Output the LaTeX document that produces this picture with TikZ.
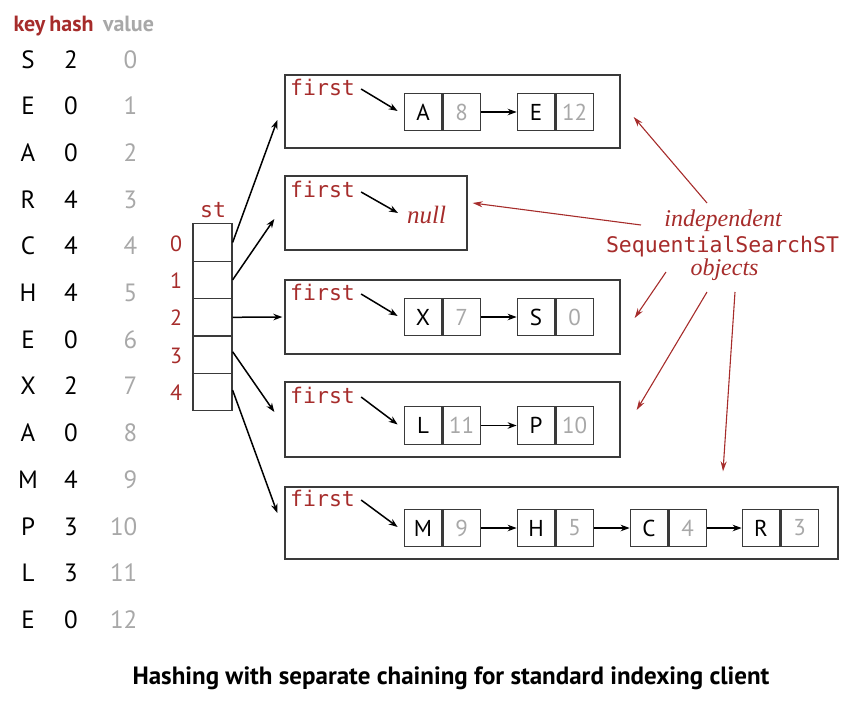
\documentclass[tikz,border=0pt]{standalone}
\usepackage{fontspec}
\setmainfont{Liberation Serif}
\setsansfont{PT Sans}
\setmonofont{DejaVu Sans Mono}
\usetikzlibrary{arrows.meta,calc}
\definecolor{bookred}{HTML}{A62C2B}
\definecolor{valgray}{HTML}{A8A8A8}
\definecolor{framegray}{HTML}{3A3A3A}
\begin{document}
\begin{tikzpicture}[x=1pt,y=-1pt,
  hdr/.style={font=\sffamily\bfseries\fontsize{22}{24}\selectfont, anchor=base, inner sep=0},
  tkey/.style={font=\sffamily\fontsize{25}{28}\selectfont, anchor=base, inner sep=0},
  tval/.style={tkey, text=valgray, anchor=base east},
  idx/.style={font=\sffamily\fontsize{22}{24}\selectfont, text=bookred, anchor=base, inner sep=0},
  stcell/.style={draw=framegray, line width=1.2pt, minimum width=39pt, minimum height=37.4pt, inner sep=0},
  objbox/.style={draw=framegray, line width=1.3pt, inner sep=0},
  kcell/.style={draw=framegray, line width=1.2pt, minimum width=37.5pt, minimum height=37.5pt, inner sep=0, font=\sffamily\fontsize{23}{24}\selectfont},
  vcell/.style={kcell, text=valgray, anchor=west},
  monolbl/.style={font=\ttfamily\fontsize{21.5}{24}\selectfont, text=bookred, inner sep=0},
  firstlbl/.style={monolbl, anchor=base west},
  itlbl/.style={font=\itshape\fontsize{24}{26}\selectfont, text=bookred, inner sep=0, anchor=base},
  ptr/.style={-{Stealth[length=9pt,width=6.5pt]}, line width=1.5pt, black},
  note/.style={-{Stealth[length=10pt,width=6pt]}, line width=1.1pt, bookred},
  ]
\useasboundingbox (0,0) rectangle (864,702);

% table
\node[hdr, text=bookred] (hk) at (29.5,31) {key};
\node[hdr, text=bookred] (hh) at (71.5,31) {hash};
\node[hdr, text=valgray] (hv) at (128.5,31) {value};
\foreach \k/\h [count=\i from 0] in {S/2,E/0,A/0,R/4,C/4,H/4,E/0,X/2,A/0,M/4,P/3,L/3,E/0}{
  \node[tkey] (k\i) at (28,{68+46.7*\i}) {\k};
  \node[tkey] (h\i) at (71,{68+46.7*\i}) {\h};
  \node[tval] (v\i) at (137.5,{68+46.7*\i}) {\i};
}

% st array
\node[monolbl, anchor=base] (stl) at (213,217) {st};
\foreach \i in {0,...,4}{
  \node[stcell] (c\i) at (212.5,{242.5+37.4*\i}) {};
  \node[idx] (n\i) at (176,{251+37.4*\i}) {\i};
}

% object boxes
\node[objbox, minimum width=335pt, minimum height=73pt] (b1) at (452.5,111.5) {};
\node[objbox, minimum width=182pt, minimum height=74pt] (b2) at (376,213) {};
\node[objbox, minimum width=335pt, minimum height=74pt] (b3) at (452.5,317) {};
\node[objbox, minimum width=335pt, minimum height=75pt] (b4) at (452.5,419.5) {};
\node[objbox, minimum width=553pt, minimum height=72pt] (b5) at (561.5,523) {};

% first labels
\node[firstlbl] (f1) at (290,95) {first};
\node[firstlbl] (f2) at (290,197) {first};
\node[firstlbl] (f3) at (290,300) {first};
\node[firstlbl] (f4) at (290,403) {first};
\node[firstlbl] (f5) at (290,506) {first};

% chains
\node[kcell] (a1) at (423,112) {A}; \node[vcell] (a1v) at (a1.east) {8};
\node[kcell] (a2) at (536,112) {E}; \node[vcell] (a2v) at (a2.east) {12};
\node[itlbl, anchor=base west, font=\itshape\fontsize{25}{26}\selectfont] (nl) at (407,223) {null};
\node[kcell] (x1) at (423,317) {X}; \node[vcell] (x1v) at (x1.east) {7};
\node[kcell] (x2) at (536,317) {S}; \node[vcell] (x2v) at (x2.east) {0};
\node[kcell] (l1) at (423,425.5) {L}; \node[vcell] (l1v) at (l1.east) {11};
\node[kcell] (l2) at (536,425.5) {P}; \node[vcell] (l2v) at (l2.east) {10};
\node[kcell] (m1) at (423,528) {M}; \node[vcell] (m1v) at (m1.east) {9};
\node[kcell] (m2) at (536,528) {H}; \node[vcell] (m2v) at (m2.east) {5};
\node[kcell] (m3) at (649,528) {C}; \node[vcell] (m3v) at (m3.east) {4};
\node[kcell] (m4) at (761,528) {R}; \node[vcell] (m4v) at (m4.east) {3};

% first pointers
\draw[ptr] ($(f1.base east)+(6,-6)$) -- ($(a1.west)+(-6,-1)$);
\draw[ptr] ($(f2.base east)+(6,-5)$) -- ($(nl.base west)+(-9,-10)$);
\draw[ptr] ($(f3.base east)+(6,-6)$) -- ($(x1.west)+(-6,-1)$);
\draw[ptr] ($(f4.base east)+(6,-6)$) -- ($(l1.west)+(-6,-1)$);
\draw[ptr] ($(f5.base east)+(6,-6)$) -- ($(m1.west)+(-6,-1)$);

% links
\draw[ptr] (a1v.east) -- (a2.west);
\draw[ptr] (x1v.east) -- (x2.west);
\draw[ptr] (l1v.east) -- (l2.west);
\draw[ptr] (m1v.east) -- (m2.west);
\draw[ptr] (m2v.east) -- (m3.west);
\draw[ptr] (m3v.east) -- (m4.west);

% st pointers
\draw[ptr] (c0.east) -- ($(b1.west)+(-7,8.5)$);
\draw[ptr] (c1.east) -- ($(b2.west)+(-10,6)$);
\draw[ptr] (c2.east) -- ($(b3.west)+(-2,0)$);
\draw[ptr] ($(c3.east)+(0,-3)$) -- ($(b4.west)+(-10,-7.5)$);
\draw[ptr] ($(c4.east)+(0,-2)$) -- ($(b5.west)+(-7,-10)$);

% annotation
\node[itlbl] (ind) at (723,226) {independent};
\node[monolbl, anchor=base] (sss) at (722.5,252) {SequentialSearchST};
\node[itlbl] (obj) at (724.5,275) {objects};
\coordinate (s1) at (707,203);
\coordinate (s2) at (641,225);
\coordinate (s3) at (666,272);
\coordinate (s4) at (707,292);
\coordinate (s5) at (735,292);
\draw[note] (s1) -- ($(b1.east)+(13,5.5)$);
\draw[note] (s2) -- ($(b2.east)+(5,-10)$);
\draw[note] (s3) -- ($(b3.east)+(14,1)$);
\draw[note] (s4) -- ($(b4.east)+(16,-9.5)$);
\draw[note] (s5) -- ($(b5.north)+(161.5,-15)$);

% caption
\node[font=\sffamily\bfseries\fontsize{25}{28}\selectfont, anchor=base, inner sep=0] (cap) at (451,684) {Hashing with separate chaining for standard indexing client};
\end{tikzpicture}
\end{document}
